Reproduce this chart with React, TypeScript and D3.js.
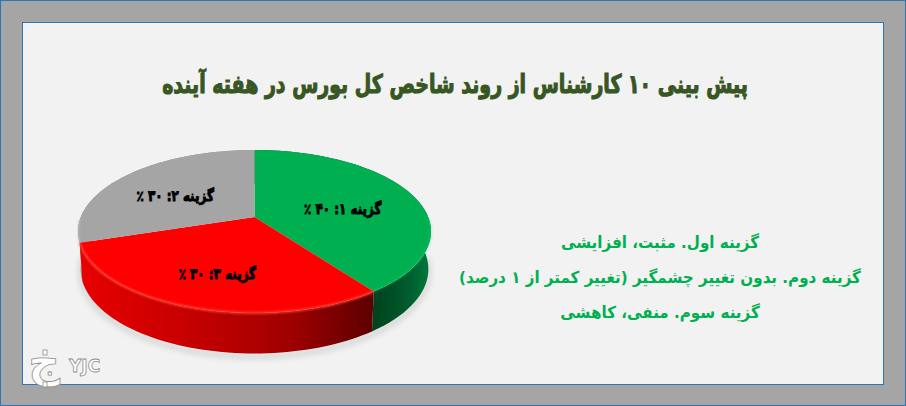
import * as d3 from "d3";
import React, { useEffect } from "react";

const width = 906;
const height = 406;

const title = "پیش بینی ۱۰ کارشناس از روند شاخص کل بورس در هفته آینده";
const sliceLabels = ["گزینه ۱: ۴۰ ٪", "گزینه ۳: ۳۰ ٪", "گزینه ۲: ۳۰ ٪"];
const sliceIds = ["a", "c", "b"];
const sliceValues = [40, 30, 30];
const labelFractions = [0.55, 0.62, 0.6];
const legendLines = [
  "گزینه اول. مثبت، افزایشی",
  "گزینه دوم. بدون تغییر چشمگیر (تغییر کمتر از ۱ درصد)",
  "گزینه سوم. منفی، کاهشی",
];

const topColors: any = { a: "#00b050", b: "#a5a5a5", c: "#ff0000" };
const order = ["b", "a", "c"]; // back to front

// pie is tilted in perspective, so the centre is not the middle of the ellipse
const apex = { x: 254.5, y: 217 };
const kx = 173.7;
const ky = 78.9;
const persp = -0.178;
const depth = 37;

function project(theta: number, r: number) {
  const sx = Math.sin(theta) * r;
  const sy = -Math.cos(theta) * r;
  const w = 1 + persp * sy;
  return [apex.x + (kx * sx) / w, apex.y + (ky * sy) / w];
}

function projectBottom(theta: number) {
  const p = project(theta, 1);
  return [apex.x + (p[0] - apex.x) * 0.985, p[1] + depth + 3.5 * -Math.cos(theta)];
}

function samples(a0: number, a1: number) {
  return d3.range(0, 61).map((i) => a0 + ((a1 - a0) * i) / 60);
}

const line = d3.line();

export default function App() {
  useEffect(() => {
    const svg = d3.select("#pie");
    svg.selectAll("*").remove();

    const arcs = d3.pie<number>().sort(null).value((d) => d)(sliceValues);
    const defs = svg.append("defs");

    function grad(id: string, stops: [number, string][]) {
      const g = defs
        .append("linearGradient")
        .attr("id", id)
        .attr("gradientUnits", "userSpaceOnUse")
        .attr("x1", 78)
        .attr("x2", 431)
        .attr("y1", 0)
        .attr("y2", 0);
      stops.forEach((s) =>
        g.append("stop").attr("offset", s[0]).attr("stop-color", s[1])
      );
    }
    grad("side-c", [
      [0, "#e80000"],
      [0.3, "#c80000"],
      [0.6, "#a00000"],
      [0.84, "#5c0000"],
    ]);
    grad("side-a", [
      [0.83, "#00401c"],
      [0.93, "#005a2c"],
      [1, "#007a3c"],
    ]);
    grad("side-b", [
      [0, "#8a8a8a"],
      [1, "#8a8a8a"],
    ]);

    const blur = defs.append("filter").attr("id", "blur").attr("x", "-10%").attr("y", "-10%").attr("width", "120%").attr("height", "130%");
    blur.append("feGaussianBlur").attr("stdDeviation", 1.2);
    const soft = defs.append("filter").attr("id", "soft").attr("x", "-10%").attr("y", "-20%").attr("width", "120%").attr("height", "140%");
    soft.append("feGaussianBlur").attr("stdDeviation", 3);

    // soft ground shadow
    const full = samples(Math.PI / 2, (3 * Math.PI) / 2).map(projectBottom);
    svg
      .append("path")
      .attr("d", line(full.map((p) => [p[0], p[1] + 3]) as any))
      .attr("fill", "none")
      .attr("stroke", "#bdbdbd")
      .attr("stroke-width", 3)
      .attr("filter", "url(#soft)");

    // side walls
    order.forEach((id) => {
      const d = arcs[sliceIds.indexOf(id)];
      const ts = samples(d.startAngle, d.endAngle);
      const pts = ts.map((t) => project(t, 1)).concat(ts.slice().reverse().map(projectBottom));
      svg
        .append("path")
        .attr("d", line(pts as any) + "Z")
        .attr("fill", `url(#side-${id})`);
    });

    // top faces
    arcs.forEach((d, i) => {
      const pts = [[apex.x, apex.y]].concat(samples(d.startAngle, d.endAngle).map((t) => project(t, 1)));
      svg
        .append("path")
        .attr("d", line(pts as any) + "Z")
        .attr("fill", topColors[sliceIds[i]]);
    });

    // bevel highlight on rim
    const rim = [
      { id: "c", color: "#ff5a4a", op: 0.75 },
      { id: "a", color: "#3fd080", op: 0.3 },
      { id: "b", color: "#c4c4c4", op: 0.6 },
    ];
    rim.forEach((r) => {
      const d = arcs[sliceIds.indexOf(r.id)];
      const ts = samples(d.startAngle, d.endAngle).filter(
        (t) => t > Math.PI / 2 && t < (3 * Math.PI) / 2
      );
      svg
        .append("path")
        .attr("d", line(ts.map((t) => project(t, 1)) as any))
        .attr("fill", "none")
        .attr("stroke", r.color)
        .attr("stroke-opacity", r.op)
        .attr("stroke-width", 2)
        .attr("filter", "url(#blur)");
    });

    // slice labels
    arcs.forEach((d, i) => {
      const mid = (d.startAngle + d.endAngle) / 2;
      const p = project(mid, labelFractions[i]);
      svg
        .append("text")
        .attr("transform", `translate(${p[0]},${p[1] + 10}) scale(0.92,1.15)`)
        .attr("text-anchor", "middle")
        .attr("direction", "rtl")
        .attr("font-family", "DejaVu Sans")
        .attr("font-weight", "bold")
        .attr("font-size", 13)
        .attr("stroke", "#000")
        .attr("stroke-width", 0.8)
        .attr("fill", "#000")
        .text(sliceLabels[i]);
    });
  }, []);

  return (
    <svg
      id="chart"
      width={width}
      height={height}
      style={{ position: "fixed", left: 0, top: 0 }}
    >
      <rect x={0.5} y={0.5} width={width - 1} height={height - 1} fill="#a5a5a5" stroke="#2e75b6" />
      <rect x={22.5} y={22.5} width={861} height={362} fill="#f2f2f2" stroke="#2e75b6" />
      <text
        transform="translate(455,93) scale(0.825,1.12)"
        textAnchor="middle"
        direction="rtl"
        fontFamily="DejaVu Sans"
        fontWeight="bold"
        fontSize={23}
        stroke="#375623"
        strokeWidth={1}
        fill="#375623"
      >
        {title}
      </text>
      <g id="pie" />
      {legendLines.map((t, i) => (
        <text
          key={i}
          transform={`translate(660,${248 + i * 35}) scale(1.01,1.1)`}
          textAnchor="middle"
          direction="rtl"
          fontFamily="DejaVu Sans"
          fontWeight="bold"
          fontSize={15}
          fill="#00b050"
        >
          {t}
        </text>
      ))}
      {/* watermark */}
      <g fontFamily="DejaVu Sans" fontWeight="bold" fill="#ffffff" stroke="#8c8c8c" strokeWidth={0.8}>
        <text x={44} y={376} textAnchor="middle" fontSize={44}>ج</text>
        <rect x={43} y={350} width={4} height={5} />
        <rect x={43} y={382} width={4} height={5} />
        <text x={69} y={372} fontSize={17}>YJC</text>
      </g>
    </svg>
  );
}
